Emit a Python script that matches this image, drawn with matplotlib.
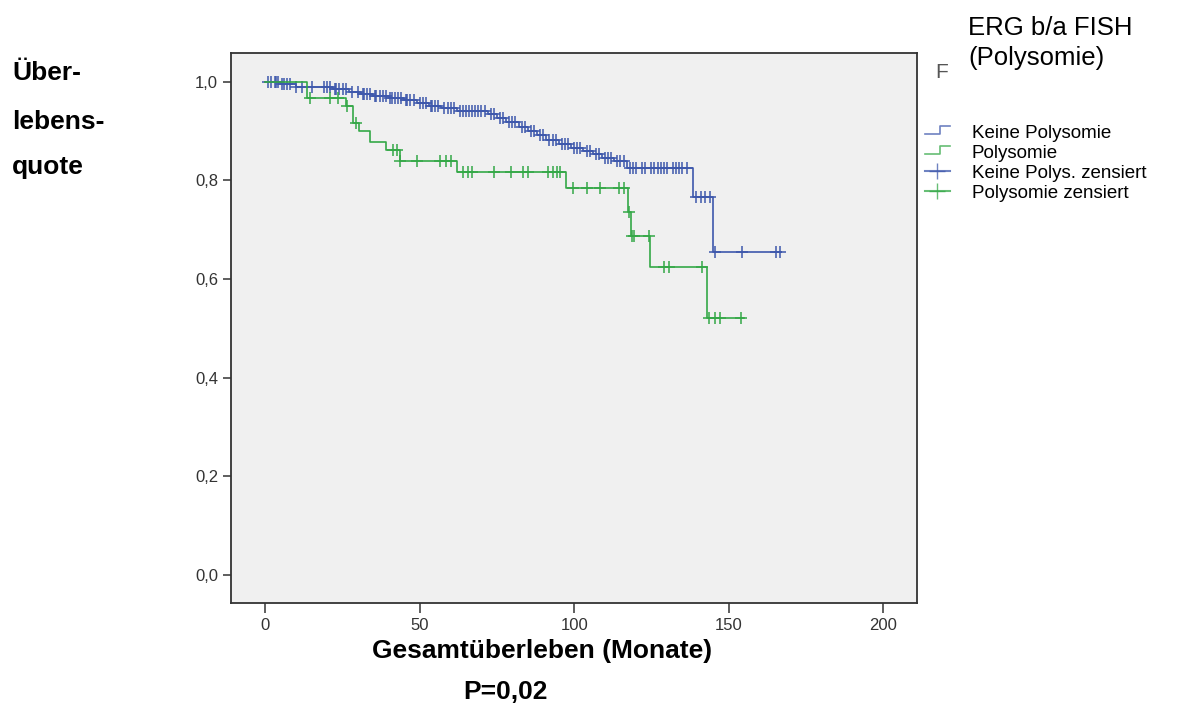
import numpy as np
import matplotlib
matplotlib.use("Agg")
import matplotlib.pyplot as plt
from matplotlib.lines import Line2D
from matplotlib.legend_handler import HandlerBase


# Kaplan-Meier steps: time of each drop (months) and survival after it
blue_times = [0, 5, 10, 22, 27, 31, 35, 40, 45, 49, 53, 57, 62, 72, 75, 78, 82, 85,
              88, 91, 95, 99, 103, 106, 109, 113, 117, 138.5, 145]
blue_surv = [1.0, 0.995, 0.990, 0.985, 0.980, 0.975, 0.971, 0.967, 0.962, 0.957,
             0.951, 0.946, 0.941, 0.935, 0.927, 0.918, 0.909, 0.900, 0.891, 0.882,
             0.874, 0.866, 0.860, 0.853, 0.846, 0.840, 0.826, 0.766, 0.655]
blue_end = 167

green_times = [0, 13.5, 26, 28.5, 30.5, 34, 39, 43.5, 62, 97.5, 117.5, 118.5, 124.5, 143]
green_surv = [1.0, 0.966, 0.951, 0.916, 0.901, 0.877, 0.861, 0.840, 0.818, 0.785,
              0.736, 0.688, 0.625, 0.522]
green_end = 155

# censored cases (months)
blue_cens = [1, 2, 3, 3.5, 4, 5.5, 6, 7, 8, 10, 12, 15, 19, 20, 21, 22.5, 23, 24, 25,
             26, 28, 30, 31.5, 32, 33, 34, 35.5, 36, 37, 38, 39, 40.5, 41, 42, 43, 44,
             45.5, 46, 47, 48, 50, 51, 52, 53.5, 54, 55, 56, 58, 59, 60, 61, 63, 64, 65,
             66, 67, 68, 69, 70, 71, 73, 74, 76, 77, 79, 80, 81, 83, 84, 86, 87, 89, 90,
             92, 93, 94, 96, 97, 98, 100, 101, 102, 104, 105, 107, 108, 110, 111, 112,
             114, 115, 116, 118, 119, 120, 122, 123, 125, 126, 127, 128, 129, 130, 132,
             133, 134, 135, 136.5, 139.5, 141, 142.5, 144, 145.5, 154.5, 165.5, 166.5]
green_cens = [14.5, 21, 23.5, 26.5, 29.5, 41.5, 42.5, 43.5, 49, 56.5, 58.5, 60, 64,
              65.5, 67, 74, 79.5, 83.5, 85, 91.5, 93, 94.5, 95.5, 99.5, 104, 108.5,
              114.5, 116, 117.8, 118.8, 119.4, 124.2, 129, 130.6, 141.3, 143.5, 145.7,
              147.3, 154]

x_ticks = [0, 50, 100, 150, 200]
y_ticks = [0.0, 0.2, 0.4, 0.6, 0.8, 1.0]
legend_labels = ['Keine Polysomie', 'Polysomie', 'Keine Polys. zensiert', 'Polysomie zensiert']

BLUE = '#3e58ac'
GREEN = '#34a847'
W, H = 1189, 711

plt.rcParams['font.family'] = ['Liberation Sans', 'DejaVu Sans']


def surv_at(times, surv, t):
    # value of the step function at time t
    i = np.searchsorted(times, t, side='right') - 1
    return np.asarray(surv)[i]


def px(x, y):
    # pixel position -> figure fraction
    return x / W, 1 - y / H


# legend key drawn as a little step, like SPSS does
class StepHandler(HandlerBase):
    def create_artists(self, legend, orig_handle, xdescent, ydescent, width, height, fontsize, trans):
        x0 = -xdescent
        y0 = -ydescent
        xs = [x0, x0 + 0.6 * width, x0 + 0.6 * width, x0 + width]
        ys = [y0 + 0.3 * height, y0 + 0.3 * height, y0 + 0.95 * height, y0 + 0.95 * height]
        ln = Line2D(xs, ys, color=orig_handle.get_color(), lw=1.2, alpha=orig_handle.get_alpha(),
                    transform=trans)
        return [ln]


fig = plt.figure(figsize=(W / 100, H / 100), dpi=100)
ax = fig.add_axes([230.7 / W, 1 - 602.7 / H, (917 - 230.7) / W, (602.7 - 53.3) / H])
ax.set_facecolor('#f0f0f0')

for times, surv, end, cens, col in [(blue_times, blue_surv, blue_end, blue_cens, BLUE),
                                    (green_times, green_surv, green_end, green_cens, GREEN)]:
    ax.step(list(times) + [end], list(surv) + [surv[-1]], where='post', color=col, lw=1.2)
    cy = [surv_at(times, surv, t) for t in cens]
    ax.plot(cens, cy, ls='none', marker='+', ms=9, mew=1.1, color=col)

ax.set_xlim(-11.2, 211)
ax.set_ylim(-0.056, 1.0576)
ax.set_xticks(x_ticks)
ax.set_yticks(y_ticks)
ax.set_xticklabels([str(v) for v in x_ticks])
ax.set_yticklabels([f"{v:.1f}".replace('.', ',') for v in y_ticks])
for lab in ax.get_xticklabels() + ax.get_yticklabels():
    lab.set_family(['Liberation Sans Narrow', 'Liberation Sans'])
    lab.set_fontsize(12)
    lab.set_color('#333333')
ax.tick_params(axis='x', length=7, width=1.1, color='#333333', pad=4)
ax.tick_params(axis='y', length=6, width=1.1, color='#333333', pad=3)
for s in ax.spines.values():
    s.set_color('#333333')
    s.set_linewidth(1.3)

# axis titles
fig.text(*px(542, 651), 'Gesamtüberleben (Monate)', fontsize=19, fontweight='bold',
         ha='center', va='center')
fig.text(*px(505, 692), 'P=0,02', fontsize=19, fontweight='bold', ha='center', va='center')
for txt, yy in [('Über-', 73), ('lebens-', 122), ('quote', 167)]:
    fig.text(*px(12, yy), txt, fontsize=19, fontweight='bold', ha='left', va='center')

# legend title (the cut-off SPSS one and the overlay)
fig.text(*px(935, 73), 'F', fontsize=15, color='#555555', ha='left', va='center')
fig.text(*px(968, 28), 'ERG b/a FISH', fontsize=18.5, ha='left', va='center')
fig.text(*px(968, 58), '(Polysomie)', fontsize=18.5, ha='left', va='center')

handles = [Line2D([], [], color=BLUE, alpha=0.75), Line2D([], [], color=GREEN, alpha=0.75),
           Line2D([], [], color=BLUE, alpha=0.75, marker='+', ms=11, mew=1),
           Line2D([], [], color=GREEN, alpha=0.75, marker='+', ms=11, mew=1)]
fig.legend(handles, legend_labels, loc='upper left', bbox_to_anchor=px(925, 125),
           frameon=False, fontsize=13.5, borderpad=0, borderaxespad=0, handlelength=1.33,
           handletextpad=1.17, labelspacing=0.145, numpoints=1,
           handler_map={handles[0]: StepHandler(), handles[1]: StepHandler()})

fig.savefig('out.png', dpi=100)
